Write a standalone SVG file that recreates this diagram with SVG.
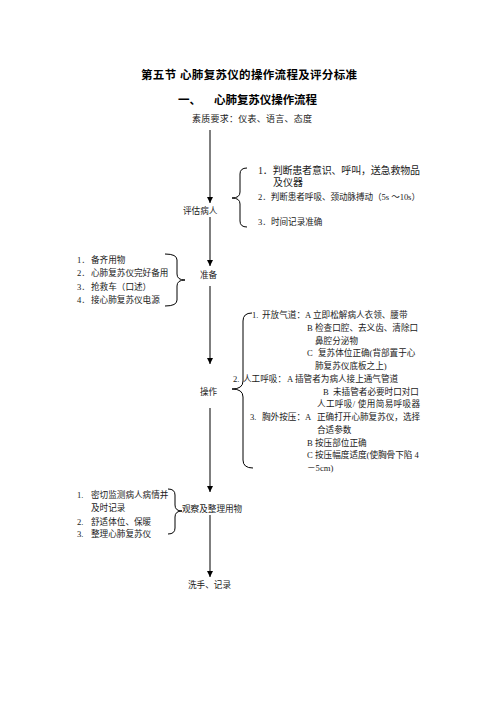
<svg xmlns="http://www.w3.org/2000/svg" width="496" height="702" viewBox="0 0 496 702">
<defs>
<marker id="arr" markerUnits="userSpaceOnUse" markerWidth="8" markerHeight="8" refX="6" refY="3" orient="auto"><path d="M0,0 L6,3 L0,6 z" fill="#000"/></marker>
<style>
text{font-family:"Liberation Serif","Noto Sans CJK SC",serif;fill:#1a1a1a;font-size:8.6px}
.title{font-family:"Liberation Sans","Noto Sans CJK SC",sans-serif;font-weight:bold;font-size:11.5px;fill:#000}
.big{font-size:10px}
.flow{stroke:#7f7f7f;stroke-width:2;fill:none;marker-end:url(#arr)}
.brace{stroke:#000;stroke-width:1;fill:none}
</style>
</defs>
<rect width="496" height="702" fill="#fff"/>
<g id="header">
<text class="title" x="141" y="79" textLength="216" lengthAdjust="spacing">第五节  心肺复苏仪的操作流程及评分标准</text>
<text class="title" x="178" y="104">一、</text>
<text class="title" x="214" y="104" textLength="103">心肺复苏仪操作流程</text>
<text x="192" y="122" style="font-size:9px" textLength="120">素质要求：仪表、语言、态度</text>
</g>
<g id="connectors">
<line class="flow" x1="210" y1="130" x2="210" y2="203"/>
<line class="flow" x1="210" y1="217" x2="210" y2="266"/>
<line class="flow" x1="210" y1="286" x2="210" y2="364"/>
<line class="flow" x1="210" y1="408" x2="210" y2="492"/>
<line class="flow" x1="210" y1="515" x2="210" y2="577"/>
</g>
<g id="assess">
<text x="183" y="214">评估病人</text>
<path class="brace" d="M247,168 Q240,168 240,174 L240,192 Q240,198 232,198 Q240,198 240,204 L240,221 Q240,227 247,227"/>
<text class="big" x="258" y="174" textLength="162">1．判断患者意识、呼叫，送急救物品</text>
<text class="big" x="273" y="186">及仪器</text>
<text x="258" y="200" textLength="162">2．判断患者呼吸、颈动脉搏动（5s ～10s）</text>
<text x="258" y="225">3．时间记录准确</text>
</g>
<g id="prepare">
<text x="200" y="278">准备</text>
<path class="brace" d="M165,254 Q177,254 177,260 L177,274 Q177,280 185,280 Q177,280 177,286 L177,300 Q177,306 165,306"/>
<text x="77" y="263">1．</text><text x="91" y="263">备齐用物</text>
<text x="77" y="276">2．</text><text x="91" y="276">心肺复苏仪完好备用</text>
<text x="77" y="290">3．</text><text x="91" y="290">抢救车（口述）</text>
<text x="77" y="303">4．</text><text x="91" y="303">接心肺复苏仪电源</text>
</g>
<g id="operate">
<text x="200" y="395">操作</text>
<path class="brace" d="M252,313 Q243,313 243,321 L243,381 Q243,389 232,389 Q243,389 243,397 L243,460 Q243,468 253,468"/>
<text x="252" y="318">1.</text><text x="262" y="318">开放气道：</text><text x="305" y="318">A</text><text x="313" y="318">立即松解病人衣领、腰带</text>
<text x="307" y="331">B</text><text x="315" y="331">检查口腔、去义齿、清除口</text>
<text x="315" y="343.5">鼻腔分泌物</text>
<text x="307" y="356">C</text><text x="318" y="356">复苏体位正确(背部置于心</text>
<text x="315" y="369">肺复苏仪底板之上)</text>
<text x="233" y="382">2.</text><text x="243" y="382">人工呼吸：</text><text x="287" y="382">A</text><text x="295" y="382">插管者为病人接上通气管道</text>
<text x="323" y="394.5">B</text><text x="333" y="394.5">未插管者必要时口对口</text>
<text x="317" y="407" textLength="103">人工呼吸/ 使用简易呼吸器</text>
<text x="250" y="420">3.</text><text x="262" y="420">胸外按压：</text><text x="305" y="420">A</text><text x="317" y="420">正确打开心肺复苏仪，选择</text>
<text x="317" y="433">合适参数</text>
<text x="307" y="445.5">B</text><text x="315" y="445.5">按压部位正确</text>
<text x="307" y="458">C</text><text x="315" y="458">按压幅度适度(使胸骨下陷 4</text>
<text x="307" y="471">－5cm)</text>
</g>
<g id="observe">
<text x="182" y="512">观察及整理用物</text>
<path class="brace" d="M168,489 Q175,489 175,495 L175,505 Q175,511 182,511 Q175,511 175,517 L175,528 Q175,534 168,534"/>
<text x="77" y="498">1.</text><text x="91" y="498">密切监测病人病情并</text>
<text x="91" y="511">及时记录</text>
<text x="77" y="525">2.</text><text x="91" y="525">舒适体位、保暖</text>
<text x="77" y="537">3.</text><text x="91" y="537">整理心肺复苏仪</text>
</g>
<g id="finish">
<text x="188" y="588">洗手、记录</text>
</g>
</svg>
